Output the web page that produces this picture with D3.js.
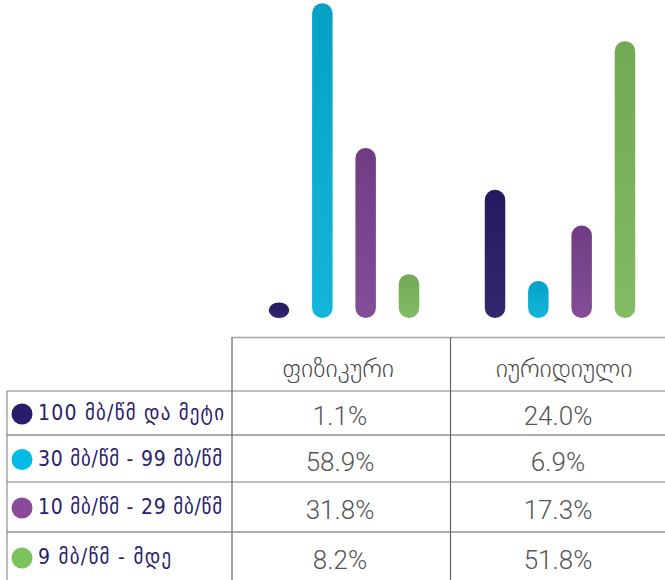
<!DOCTYPE html>
<html>
<head>
<meta charset="utf-8">
<script src="https://cdn.jsdelivr.net/npm/d3@7"></script>
<style>
  html, body { margin: 0; padding: 0; background: #fff; }
  svg { display: block; }
</style>
</head>
<body>
<div id="chart"></div>
<script>
// values from the table
const groups = ["ფიზიკური", "იურიდიული"]
const speeds = ["100 მბ/წმ და მეტი", "30 მბ/წმ - 99 მბ/წმ", "10 მბ/წმ - 29 მბ/წმ", "9 მბ/წმ - მდე"]
const physical = [1.1, 58.9, 31.8, 8.2]
const legal = [24.0, 6.9, 17.3, 51.8]

const barTop = ["#251a60", "#05a1c6", "#703d85", "#71a954"]
const barBottom = ["#32286f", "#14b5da", "#834d97", "#81bb65"]
const dotColors = ["#2a1c6c", "#00bce6", "#8a4a9c", "#7bc45d"]

const width = 665, height = 580
const rowEdges = [391, 435, 482, 532, 582]
const legendWidths = [186, 184, 184, 133]

const svg = d3.select("#chart").append("svg")
  .attr("width", width)
  .attr("height", height)

const values = [physical, legal]
const data = []
groups.forEach((g, gi) => {
  speeds.forEach((s, si) => data.push({ group: g, speed: s, si: si, value: values[gi][si] }))
})

// bars
const x0 = d3.scaleBand().domain(groups).range([236, 668])
const x1 = d3.scaleBand().domain(speeds).range([0, x0.bandwidth()])
  .paddingInner(0.527).paddingOuter(0.757)
const y = d3.scaleLinear().domain([0, 59.5]).range([318, 0])

const defs = svg.append("defs")
speeds.forEach((s, i) => {
  const grad = defs.append("linearGradient")
    .attr("id", "grad" + i)
    .attr("x1", 0).attr("y1", 0).attr("x2", 0).attr("y2", 1)
  grad.append("stop").attr("offset", "0%").attr("stop-color", barTop[i])
  grad.append("stop").attr("offset", "100%").attr("stop-color", barBottom[i])
})

svg.append("g").selectAll("rect")
  .data(data)
  .enter().append("rect")
    .attr("x", d => x0(d.group) + x1(d.speed))
    .attr("width", x1.bandwidth())
    .attr("y", d => Math.min(y(d.value), y(0) - 15.5))
    .attr("height", d => Math.max(y(0) - y(d.value), 15.5))
    .attr("rx", 10)
    .attr("ry", 10)
    .attr("fill", d => "url(#grad" + d.si + ")")

// table grid
const grid = svg.append("g").attr("fill", "none")
const colLeft = 232, colMid = 450.5
grid.append("line").attr("x1", colLeft).attr("x2", width).attr("y1", 337.5).attr("y2", 337.5)
  .attr("stroke", "#a8a8a8").attr("stroke-width", 1.5)
rowEdges.slice(0, 4).forEach((r, i) => {
  grid.append("line")
    .attr("x1", 7).attr("x2", width)
    .attr("y1", r).attr("y2", r)
    .attr("stroke", i % 2 === 0 ? "#a8a8a8" : "#5a5a5a")
    .attr("stroke-width", i % 2 === 0 ? 1.5 : 1)
})
grid.append("line").attr("x1", 7).attr("x2", 7).attr("y1", 391).attr("y2", height)
  .attr("stroke", "#777").attr("stroke-width", 1)
grid.append("line").attr("x1", colLeft).attr("x2", colLeft).attr("y1", 337).attr("y2", height)
  .attr("stroke", "#666").attr("stroke-width", 1.2)
grid.append("line").attr("x1", colMid).attr("x2", colMid).attr("y1", 337).attr("y2", height)
  .attr("stroke", "#666").attr("stroke-width", 1.2)

// header
const headerX = [338, 564]
svg.append("g").selectAll("text")
  .data(groups)
  .enter().append("text")
    .attr("x", (d, i) => headerX[i])
    .attr("y", 377)
    .attr("text-anchor", "middle")
    .style("font-family", "'DejaVu Sans ExtraLight', 'DejaVu Sans'")
    .style("font-weight", 200)
    .style("font-size", "26px")
    .style("fill", "#444")
    .text(d => d)

// legend rows
const rowMid = i => (rowEdges[i] + rowEdges[i + 1]) / 2
const legend = svg.append("g").selectAll("g")
  .data(speeds)
  .enter().append("g")
legend.append("circle")
  .attr("cx", 22)
  .attr("cy", (d, i) => rowMid(i) + 1)
  .attr("r", 10.5)
  .attr("fill", (d, i) => dotColors[i])
legend.append("text")
  .attr("x", 38)
  .attr("y", (d, i) => rowMid(i) + 7)
  .attr("textLength", (d, i) => legendWidths[i])
  .attr("lengthAdjust", "spacing")
  .style("font-family", "'DejaVu Sans Condensed', 'DejaVu Sans'")
  .style("font-size", "21px")
  .style("fill", "#2a1c6c")
  .text(d => d)

// values
const fmt = d3.format(".1f")
const valueX = [340, 558]
values.forEach((col, ci) => {
  svg.append("g").selectAll("text")
    .data(col)
    .enter().append("text")
      .attr("x", valueX[ci])
      .attr("y", (d, i) => rowMid(i) + 12)
      .attr("text-anchor", "middle")
      .style("font-family", "Roboto, 'Open Sans', sans-serif")
      .style("font-weight", 300)
      .style("font-size", "26px")
      .style("fill", "#555")
      .text(d => fmt(d) + "%")
})
</script>
</body>
</html>
